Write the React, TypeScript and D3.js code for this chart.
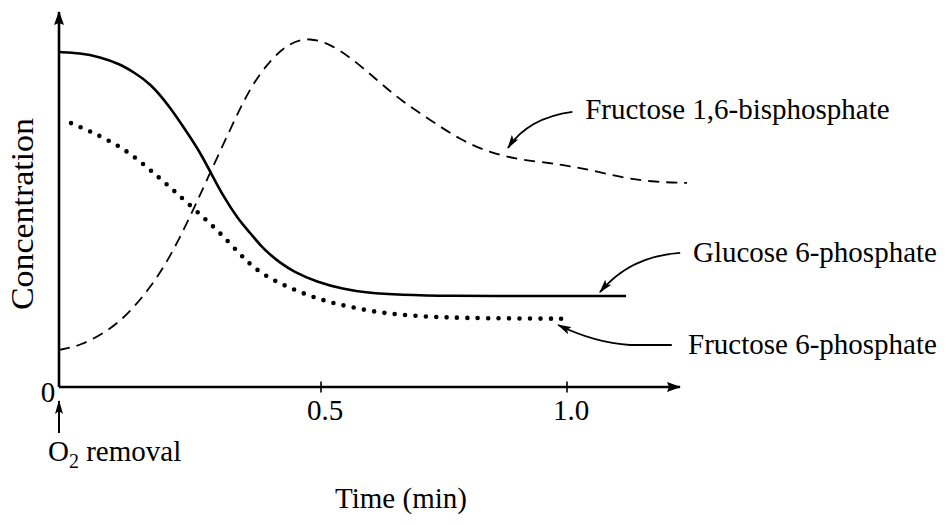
import React from "react";
import * as d3 from "d3";

// ---- data (time in min, concentration in relative units) ----
const g6pTime = [0, 0.04, 0.078, 0.116, 0.145, 0.174, 0.212, 0.244, 0.269, 0.288, 0.313, 0.342, 0.365, 0.384, 0.403, 0.422, 0.447, 0.492, 0.545, 0.593, 0.661, 0.762, 0.904, 1.026, 1.12];
const g6pConc = [0.957, 0.954, 0.943, 0.923, 0.897, 0.868, 0.8, 0.728, 0.671, 0.617, 0.546, 0.479, 0.44, 0.405, 0.378, 0.355, 0.33, 0.3, 0.28, 0.269, 0.263, 0.26, 0.26, 0.26, 0.26];

const f6pTime = [0.023, 0.059, 0.097, 0.135, 0.174, 0.212, 0.256, 0.302, 0.342, 0.37, 0.406, 0.441, 0.479, 0.518, 0.559, 0.604, 0.661, 0.728, 0.797, 0.89, 0.99];
const f6pConc = [0.754, 0.731, 0.703, 0.669, 0.62, 0.571, 0.511, 0.449, 0.385, 0.342, 0.307, 0.283, 0.26, 0.242, 0.229, 0.216, 0.206, 0.2, 0.197, 0.196, 0.195];

const fbpTime = [0, 0.04, 0.097, 0.135, 0.174, 0.212, 0.25, 0.282, 0.326, 0.365, 0.403, 0.441, 0.479, 0.518, 0.559, 0.614, 0.661, 0.722, 0.783, 0.844, 0.905, 0.966, 1.006, 1.047, 1.108, 1.169, 1.244];
const fbpConc = [0.106, 0.117, 0.163, 0.214, 0.283, 0.371, 0.486, 0.591, 0.734, 0.857, 0.934, 0.985, 0.998, 0.98, 0.943, 0.877, 0.82, 0.763, 0.706, 0.669, 0.649, 0.64, 0.631, 0.62, 0.6, 0.586, 0.583];

const xTickValues = [0.5, 1.0];
const xTickLabels = ["0.5", "1.0"];

// labels with leader arrows (data coords): text anchor, arrow start, bend, control, tip
const labelNames = ["Fructose 1,6-bisphosphate", "Glucose 6-phosphate", "Fructose 6-phosphate"];
const labelPos = [[1.037, 0.766], [1.256, 0.357], [1.246, 0.094]];
const arrowFrom = [[1.011, 0.786], [1.23, 0.383], [1.213, 0.12]];
const arrowMid = [[1.011, 0.786], [1.23, 0.383], [1.128, 0.12]];
const arrowCtrl = [[0.921, 0.769], [1.128, 0.374], [1.057, 0.126]];
const arrowTip = [[0.88, 0.683], [1.067, 0.271], [0.982, 0.177]];

const W = 946;
const H = 525;
const FONT = "'Liberation Serif', 'Times New Roman', Times, serif";

export default function App() {
  const x = d3.scaleLinear().domain([0, 0.5, 1]).range([59, 321, 567]);
  const y = d3.scaleLinear().domain([0, 1]).range([387, 37]);
  const xEnd = x.invert(680);
  const yEnd = y.invert(12);

  const line = d3
    .line<[number, number]>()
    .x((d) => x(d[0]))
    .y((d) => y(d[1]))
    .curve(d3.curveBasis);

  const zip = (a: number[], b: number[]) => a.map((v, i) => [v, b[i]] as [number, number]);

  const arrowPath = (i: number) => {
    const p = d3.path();
    p.moveTo(x(arrowFrom[i][0]), y(arrowFrom[i][1]));
    p.lineTo(x(arrowMid[i][0]), y(arrowMid[i][1]));
    p.quadraticCurveTo(x(arrowCtrl[i][0]), y(arrowCtrl[i][1]), x(arrowTip[i][0]), y(arrowTip[i][1]));
    return p.toString();
  };

  return (
    <svg width={W} height={H} style={{ position: "absolute", left: 0, top: 0, background: "#fff" }} fontFamily={FONT}>
      <defs>
        <marker id="head" viewBox="0 0 14 8" refX="13" refY="4" markerWidth="14" markerHeight="8" markerUnits="userSpaceOnUse" orient="auto">
          <path d="M0,0 L14,4 L0,8 L3,4 Z" fill="#000" />
        </marker>
        <marker id="axhead" viewBox="0 0 14 10" refX="13" refY="5" markerWidth="14" markerHeight="10" markerUnits="userSpaceOnUse" orient="auto">
          <path d="M0,0 L14,5 L0,10 L2,5 Z" fill="#000" />
        </marker>
      </defs>

      {/* axes */}
      <line x1={x(0)} y1={y(0)} x2={x(xEnd)} y2={y(0)} stroke="#000" strokeWidth={2.6} markerEnd="url(#axhead)" />
      <line x1={x(0)} y1={y(0)} x2={x(0)} y2={y(yEnd)} stroke="#000" strokeWidth={2.6} markerEnd="url(#axhead)" />
      {xTickValues.map((t, i) => (
        <g key={i}>
          <line x1={x(t)} x2={x(t)} y1={y(0) - 5.5} y2={y(0) + 5.5} stroke="#000" strokeWidth={1.6} />
          <text x={x(t) + 4} y={420} fontSize={29} textAnchor="middle">{xTickLabels[i]}</text>
        </g>
      ))}
      <text x={x(0) - 11} y={402} fontSize={29} textAnchor="middle">0</text>

      {/* O2 removal marker */}
      <line x1={x(0)} y1={433} x2={x(0)} y2={401} stroke="#000" strokeWidth={2} markerEnd="url(#head)" />
      <text x={48} y={461} fontSize={29}>
        O<tspan fontSize={20} dy={7}>2</tspan><tspan dy={-7}> removal</tspan>
      </text>

      {/* axis titles */}
      <text x={401} y={508} fontSize={29} textAnchor="middle">Time (min)</text>
      <text transform={`translate(33,${214}) rotate(-90)`} fontSize={32} textAnchor="middle" textLength={192} lengthAdjust="spacingAndGlyphs">Concentration</text>

      {/* series */}
      <path d={line(zip(fbpTime, fbpConc)) || ""} fill="none" stroke="#000" strokeWidth={1.8} strokeDasharray="11 7" />
      <path d={line(zip(g6pTime, g6pConc)) || ""} fill="none" stroke="#000" strokeWidth={2.6} />
      <path d={line(zip(f6pTime, f6pConc)) || ""} fill="none" stroke="#000" strokeWidth={4.6} strokeDasharray="0 10.4" strokeLinecap="round" />

      {/* labels */}
      {labelNames.map((name, i) => (
        <g key={name}>
          <path d={arrowPath(i)} fill="none" stroke="#000" strokeWidth={1.8} markerEnd="url(#head)" />
          <text x={x(labelPos[i][0])} y={y(labelPos[i][1])} fontSize={29}>{name}</text>
        </g>
      ))}
    </svg>
  );
}
